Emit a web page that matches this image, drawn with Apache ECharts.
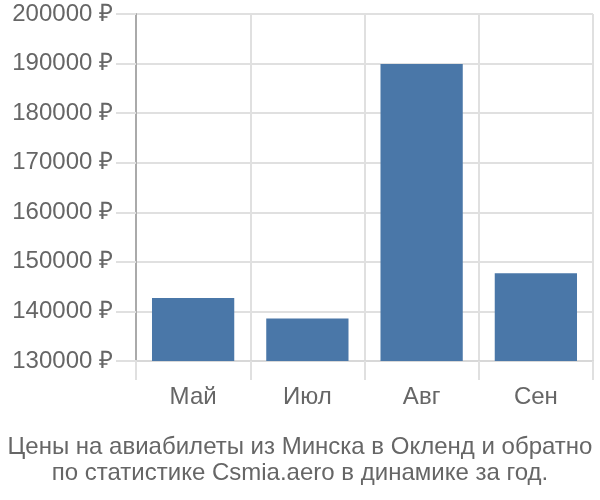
<!DOCTYPE html>
<html><head><meta charset="utf-8">
<script src="https://cdn.jsdelivr.net/npm/echarts@6/dist/echarts.min.js"></script>
<style>html,body{margin:0;padding:0;background:#fff}#c{width:600px;height:500px}</style>
</head><body><div id="c"></div>
<script>
const categories = ['Май', 'Июл', 'Авг', 'Сен'];
const prices = [142700, 138550, 189900, 147700];
const yTicks = [130000, 200000, 10000];
const titleLines = ['Цены на авиабилеты из Минска в Окленд и обратно', 'по статистике Csmia.aero в динамике за год.'];

const chart = echarts.init(document.getElementById('c'), null, {renderer: 'canvas'});
const font = '"Liberation Sans", Arial, sans-serif';
chart.setOption({
  animation: false,
  title: {
    text: titleLines.join('\n'),
    left: 'center', bottom: 9,
    textStyle: {color: '#666', fontSize: 24, fontWeight: 'normal', fontFamily: font, lineHeight: 26}
  },
  grid: {left: 136, right: 7, top: 14, bottom: 139, containLabel: false},
  xAxis: {
    type: 'category', data: categories,
    axisLine: {show: true, lineStyle: {color: '#d8d8d8', width: 2}},
    axisTick: {show: true, length: 19, lineStyle: {color: '#e0e0e0', width: 2}},
    splitLine: {show: true, lineStyle: {color: '#e0e0e0', width: 2}},
    axisLabel: {color: '#666', fontSize: 24, fontFamily: font, margin: 24}
  },
  yAxis: {
    type: 'value', min: yTicks[0], max: yTicks[1], interval: yTicks[2],
    axisLine: {show: true, lineStyle: {color: '#aaa', width: 2}},
    axisTick: {show: true, length: 20, lineStyle: {color: '#e0e0e0', width: 2}},
    splitLine: {show: true, lineStyle: {color: '#e0e0e0', width: 2}},
    axisLabel: {color: '#666', fontSize: 24, fontFamily: font, margin: 23, formatter: v => v + ' ₽'}
  },
  series: [{
    type: 'bar', data: prices, barWidth: '72%',
    itemStyle: {color: '#4a77a8'}
  }]
});
</script></body></html>
